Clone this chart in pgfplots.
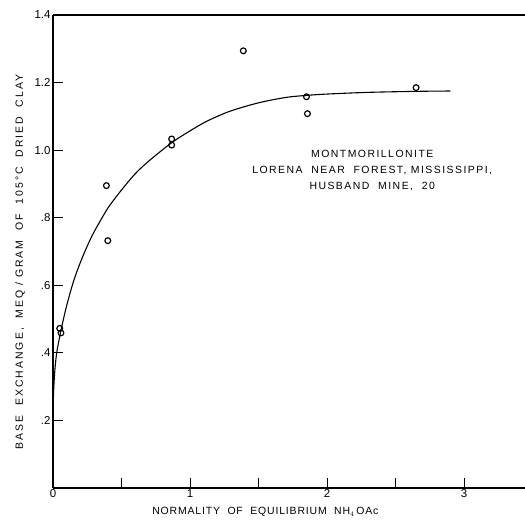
\documentclass[border=0pt]{standalone}
\usepackage{pgfplots}
\pgfplotsset{compat=1.18}
\usepackage{fontspec}
\setmainfont{Liberation Sans}
\setsansfont{Liberation Sans}
\begin{document}
\begin{tikzpicture}
\begin{axis}[
  name=ax,
  scale only axis,
  width=472bp, height=473bp,
  xmin=0, xmax=3.445, ymin=0, ymax=1.4,
  axis lines*=left,
  axis line style={line width=1.3pt},
  xtick={0,0.5,1,1.5,2,2.5,3},
  xticklabels={0,,1,,2,,3},
  ytick={0.2,0.4,0.6,0.8,1.0,1.2,1.4},
  yticklabels={.2,.4,.6,.8,1.0,1.2,1.4},
  tick align=inside,
  major tick length=10bp,
  tick style={black, line width=1pt},
  /pgf/number format/assume math mode=true,
  ticklabel style={font=\fontsize{11.5}{13}\selectfont},
  yticklabel style={xshift=1bp},
  xticklabel style={yshift=2bp},
  xlabel={\addfontfeatures{LetterSpace=8}NORMALITY\ \ OF\ \ EQUILIBRIUM\ \ NH$_4$\,OAc},
  ylabel={\addfontfeatures{LetterSpace=19}BASE\ \ EXCHANGE,\ \ MEQ\ /\ GRAM\ \ OF\ \ 105°C\ \ DRIED\ \ CLAY},
  label style={font=\fontsize{10.5}{12}\selectfont},
  xlabel style={at={(axis cs:1.55,0)}, anchor=center, yshift=-24bp},
  ylabel style={at={(axis description cs:-0.0699,0.478)}, anchor=center},
  clip=false,
]
\addplot[black, line width=1.1pt, smooth, tension=0.5] coordinates {
(0,0.21) (0.004,0.28) (0.012,0.34) (0.027,0.40) (0.06,0.47) (0.1,0.54) (0.15,0.612) (0.2,0.668) (0.25,0.716) (0.3,0.758) (0.4,0.828) (0.5,0.882) (0.6,0.93) (0.7,0.968) (0.866,1.022) (1.0,1.057) (1.12,1.085) (1.29,1.115) (1.5,1.14) (1.7,1.156) (1.85,1.162) (2.0,1.166) (2.3,1.171) (2.65,1.174) (2.9,1.175)
};
\addplot[only marks, mark=o, mark size=2.9bp, mark options={line width=1.2pt, fill=white}, black] coordinates {
(0.049,0.4725) (0.058,0.459) (0.39,0.895) (0.40,0.732) (0.866,1.033) (0.866,1.015) (1.389,1.294) (1.85,1.158) (1.857,1.108) (2.65,1.185)
};
\node[align=center, font=\fontsize{10.5}{16}\selectfont\addfontfeatures{LetterSpace=14}] at (axis cs:2.33,0.94) {MONTMORILLONITE\\LORENA\ \ NEAR\ \ FOREST, MISSISSIPPI,\\HUSBAND\ \ MINE, \ 20};
\draw[line width=1.3pt] (rel axis cs:0,1) -- (rel axis cs:1,1);
\end{axis}
\pgfresetboundingbox
\path[use as bounding box] ([shift={(-53bp,-33bp)}]ax.south west) rectangle ([shift={(0bp,15bp)}]ax.north east);
\end{tikzpicture}
\end{document}
